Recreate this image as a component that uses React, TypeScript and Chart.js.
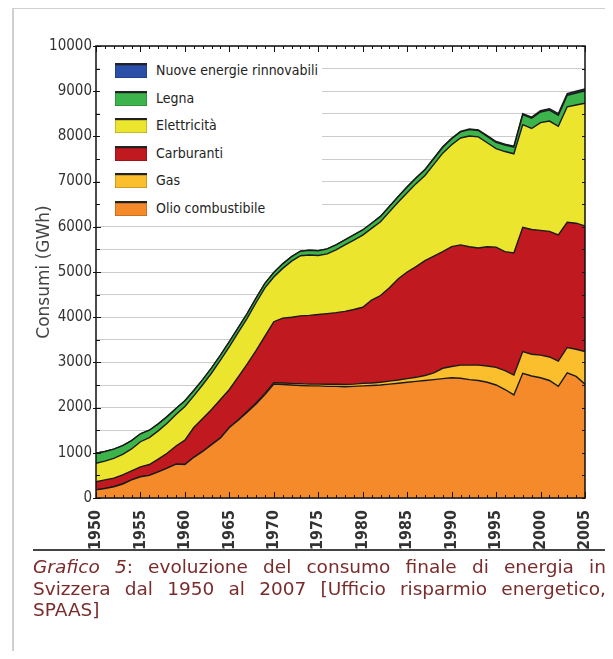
import React, { useEffect, useRef } from 'react';
import { Chart, registerables } from 'chart.js';

Chart.register(...registerables);

const years = [
  1950, 1951, 1952, 1953, 1954, 1955, 1956, 1957, 1958, 1959,
  1960, 1961, 1962, 1963, 1964, 1965, 1966, 1967, 1968, 1969,
  1970, 1971, 1972, 1973, 1974, 1975, 1976, 1977, 1978, 1979,
  1980, 1981, 1982, 1983, 1984, 1985, 1986, 1987, 1988, 1989,
  1990, 1991, 1992, 1993, 1994, 1995, 1996, 1997, 1998, 1999,
  2000, 2001, 2002, 2003, 2004, 2005,
];

const olio = [
  180, 210, 250, 310, 400, 470, 500, 580, 660, 750,
  740, 900, 1030, 1180, 1330, 1560, 1720, 1900, 2080, 2290,
  2520, 2510, 2500, 2490, 2480, 2480, 2470, 2470, 2460, 2470,
  2480, 2490, 2500, 2520, 2540, 2560, 2580, 2600, 2620, 2640,
  2660, 2650, 2620, 2600, 2560, 2500, 2400, 2280, 2760, 2700,
  2660, 2600, 2470, 2770, 2690, 2520,
];

const gas = [
  0, 0, 0, 0, 0, 0, 0, 0, 0, 0,
  0, 0, 0, 0, 0, 0, 10, 15, 20, 25,
  30, 35, 35, 40, 40, 40, 45, 45, 50, 50,
  55, 55, 60, 65, 70, 80, 90, 110, 150, 230,
  250, 290, 320, 340, 360, 390, 420, 440, 480, 480,
  500, 520, 560, 560, 600, 720,
];

const carburanti = [
  180, 190, 190, 200, 200, 220, 240, 280, 330, 400,
  540, 660, 730, 780, 850, 840, 950, 1045, 1160, 1265,
  1350, 1435, 1465, 1500, 1520, 1540, 1565, 1585, 1620, 1650,
  1685, 1835, 1920, 2065, 2240, 2360, 2450, 2540, 2580, 2580,
  2650, 2660, 2620, 2590, 2640, 2660, 2630, 2700, 2750, 2760,
  2760, 2780, 2790, 2770, 2790, 2780,
];

const elettricita = [
  410, 415, 435, 455, 485, 555, 595, 625, 665, 695,
  745, 700, 745, 805, 870, 950, 985, 1015, 1060, 1070,
  990, 1100, 1240, 1330, 1335, 1305, 1320, 1390, 1470, 1535,
  1595, 1585, 1630, 1680, 1700, 1755, 1835, 1885, 2030, 2180,
  2255, 2365, 2450, 2460, 2300, 2180, 2215, 2195, 2270, 2235,
  2385, 2440, 2405, 2555, 2615, 2715,
];

const legna = [
  220, 215, 205, 195, 185, 175, 165, 155, 145, 135,
  125, 120, 115, 115, 110, 110, 105, 105, 100, 100,
  100, 100, 100, 100, 105, 105, 110, 110, 110, 115,
  115, 115, 120, 120, 120, 125, 125, 125, 130, 130,
  135, 135, 140, 140, 140, 140, 145, 145, 220, 225,
  235, 240, 245, 255, 265, 275,
];

const nuove = [
  0, 0, 0, 0, 0, 0, 0, 0, 0, 0,
  0, 0, 0, 0, 0, 0, 0, 0, 0, 0,
  0, 0, 0, 0, 0, 0, 0, 0, 0, 0,
  0, 0, 0, 0, 0, 5, 5, 8, 8, 10,
  10, 12, 14, 15, 16, 18, 20, 22, 25, 27,
  30, 32, 34, 36, 38, 40,
];

const seriesNames = [
  'Olio combustibile',
  'Gas',
  'Carburanti',
  'Elettricità',
  'Legna',
  'Nuove energie rinnovabili',
];
const seriesData = [olio, gas, carburanti, elettricita, legna, nuove];
const seriesColors = ['#F58A2B', '#FBBE2C', '#C0191F', '#ECE52E', '#3CB44B', '#2B4FA8'];

const yMax = 10000;
const yStep = 500;
const yLabelStep = 1000;

const frameTicks = {
  id: 'frameTicks',
  afterDraw(chart: any) {
    const { ctx, chartArea: a, scales } = chart;
    const xs = scales.x;
    const ys = scales.y;
    ctx.save();
    ctx.strokeStyle = '#111';
    ctx.lineWidth = 1;
    ctx.beginPath();
    for (const yr of years) {
      const px = Math.round(xs.getPixelForValue(yr)) + 0.5;
      const len = yr % 5 === 0 ? 6 : 3;
      ctx.moveTo(px, a.bottom);
      ctx.lineTo(px, a.bottom - len);
      ctx.moveTo(px, a.top);
      ctx.lineTo(px, a.top + len);
    }
    for (const t of ys.ticks) {
      const py = Math.round(ys.getPixelForValue(t.value)) + 0.5;
      const major = t.value % yLabelStep === 0;
      ctx.moveTo(a.left - (major ? 3 : 0), py);
      ctx.lineTo(a.left + (major ? 5 : 4), py);
      ctx.moveTo(a.right - 3, py);
      ctx.lineTo(a.right, py);
    }
    ctx.stroke();
    ctx.lineWidth = 1.5;
    ctx.strokeRect(a.left, a.top, a.right - a.left, a.bottom - a.top);
    ctx.restore();
  },
};

function EnergyChart() {
  const ref = useRef<HTMLCanvasElement | null>(null);
  useEffect(() => {
    if (!ref.current) return;
    const chart = new Chart(ref.current, {
      type: 'line',
      data: {
        labels: years,
        datasets: seriesNames.map((name, i) => ({
          label: name,
          data: seriesData[i],
          backgroundColor: seriesColors[i],
          borderColor: '#1a1a1a',
          borderWidth: 1.4,
          pointRadius: 0,
          tension: 0,
          fill: i === 0 ? 'origin' : '-1',
        })),
      },
      options: {
        animation: false,
        responsive: false,
        layout: { padding: { top: 46, right: 28, left: 0, bottom: 0 } },
        plugins: {
          legend: { display: false },
          tooltip: { enabled: false },
        },
        scales: {
          x: {
            type: 'linear',
            min: 1950,
            max: 2005,
            grid: { display: false },
            border: { display: false },
            ticks: {
              stepSize: 5,
              autoSkip: false,
              minRotation: 90,
              maxRotation: 90,
              padding: 4,
              color: '#333',
              font: { family: 'DejaVu Sans Condensed', size: 16, weight: 'bold' },
              callback: (v: any) => String(v),
            },
            afterFit: (s: any) => {
              s.height = 52;
            },
          },
          y: {
            stacked: true,
            min: 0,
            max: yMax,
            z: 1,
            grid: { color: 'rgba(0,0,0,0.2)', drawTicks: false, lineWidth: 1 },
            border: { display: false },
            ticks: {
              stepSize: yStep,
              padding: 4,
              color: '#333',
              font: { family: 'DejaVu Sans Condensed', size: 15 },
              callback: (v: any) => (v % yLabelStep === 0 ? String(v) : ''),
            },
            title: {
              display: true,
              text: 'Consumi (GWh)',
              color: '#444',
              font: { family: 'DejaVu Sans', size: 17 },
              padding: { top: 34, bottom: 0 },
            },
            afterFit: (s: any) => {
              s.width = 96;
            },
          },
        },
      },
      plugins: [frameTicks],
    } as any);
    return () => chart.destroy();
  }, []);
  return (
    <canvas
      ref={ref}
      width={613}
      height={550}
      style={{ position: 'absolute', left: 0, top: 0, width: 613, height: 550, display: 'block' }}
    />
  );
}

export default function App() {
  const legendOrder = [5, 4, 3, 2, 1, 0];
  return (
    <div style={{ position: 'relative', margin: -8, width: 613, height: 659, background: '#fff', overflow: 'hidden' }}>
      <EnergyChart />
      <div
        style={{
          position: 'absolute',
          left: 100,
          top: 54,
          width: 222,
          height: 166,
          background: '#fff',
        }}
      >
        {legendOrder.map((idx, r) => (
          <div
            key={idx}
            style={{ position: 'absolute', left: 0, top: 9 + r * 27.5, height: 15, width: 222 }}
          >
            <div
              style={{
                position: 'absolute',
                left: 15,
                top: 0,
                width: 32,
                height: 13,
                background: seriesColors[idx],
                borderTop: '2px solid #222',
                boxShadow: 'inset 0 0 0 0.5px rgba(0,0,0,0.35)',
              }}
            />
            <div
              style={{
                position: 'absolute',
                left: 56,
                top: -2,
                whiteSpace: 'nowrap',
                font: '14px "DejaVu Sans Condensed"',
                lineHeight: '19px',
                color: '#222',
              }}
            >
              {seriesNames[idx]}
            </div>
          </div>
        ))}
      </div>
      <div style={{ position: 'absolute', left: 12, top: 7, width: 601, height: 2, background: '#cfcfcf' }} />
      <div style={{ position: 'absolute', left: 12, top: 7, width: 2, height: 652, background: '#cfcfcf' }} />
      <div style={{ position: 'absolute', left: 33, top: 549, width: 580, height: 2, background: '#444' }} />
      <div
        style={{
          position: 'absolute',
          left: 33,
          top: 556,
          width: 573,
          font: '18.5px "DejaVu Sans"',
          lineHeight: '21.7px',
          color: '#7a2c2c',
          textAlign: 'justify',
        }}
      >
        <i>Grafico 5</i>: evoluzione del consumo finale di energia in Svizzera dal 1950 al 2007 [Ufficio
        risparmio energetico, SPAAS]
      </div>
    </div>
  );
}
